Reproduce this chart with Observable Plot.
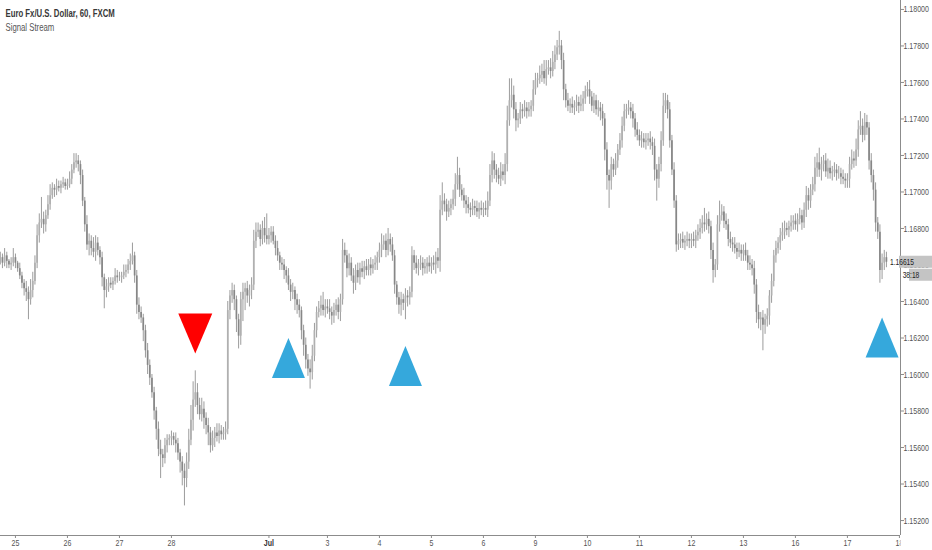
<!DOCTYPE html>
<html>
<head>
<meta charset="utf-8">
<script src="https://cdn.jsdelivr.net/npm/d3@7"></script>
<script src="https://cdn.jsdelivr.net/npm/@observablehq/plot@0.6"></script>
<style>
  html, body { margin: 0; padding: 0; background: #fff; }
  #chart svg { display: block; }
</style>
</head>
<body>
<div id="chart"></div>
<script>
// ---------- DATA (EUR/USD, 60-minute bars, FXCM) ----------
// Bar position is counted in trading hours from Jun 25 00:00 (weekends skipped).
const firstHour = -7;          // first bar: Fri Jun 22 17:00
const firstOpen = 1.1662;

// closes, week of Jun 25 (incl. Jun 22 tail)
const week0Close = [1.1664,1.1661,1.1665,1.1662,1.1660,1.1661,1.1664,
 1.1661,1.1658,1.1654,1.1650,1.1647,1.1645,1.1641,1.1646,1.1651,1.1661,1.1676,1.1683,1.1685,1.1682,1.1687,1.1693,1.1698,1.1702,1.1701,1.1703,1.1702,1.1704,1.1705,1.1703,
 1.1704,1.1707,1.1712,1.1716,1.1717,1.1715,1.1709,1.1695,1.1682,1.1671,1.1673,1.1669,1.1667,1.1672,1.1668,1.1664,1.1653,1.1646,1.1648,1.1650,1.1649,1.1651,1.1654,1.1653,
 1.1653,1.1654,1.1656,1.1657,1.1660,1.1662,1.1665,1.1654,1.1638,1.1634,1.1631,1.1624,1.1613,1.1605,1.1598,1.1590,1.1580,1.1570,1.1559,1.1556,1.1554,1.1561,1.1564,1.1565,
 1.1566,1.1564,1.1562,1.1557,1.1552,1.1547,1.1543,1.1552,1.1564,1.1575,1.1586,1.1590,1.1583,1.1578,1.1581,1.1576,1.1572,1.1568,1.1561,1.1565,1.1568,1.1566,1.1569,1.1567,
 1.1568,1.1570,1.1635,1.1643,1.1646,1.1641,1.1630,1.1621,1.1641,1.1645,1.1647,1.1643,1.1646,1.1649,1.1673,1.1678,1.1679,1.1674,1.1680,1.1676,1.1674];
// closes, week of Jul 2
const week1Close = [1.1676,1.1678,1.1673,
 1.1669,1.1665,1.1661,1.1660,1.1657,1.1654,1.1649,1.1645,1.1646,1.1641,1.1638,1.1635,1.1624,1.1616,1.1608,1.1603,1.1601,1.1610,1.1624,1.1634,1.1636,1.1638,1.1635,1.1637,
 1.1636,1.1634,1.1632,1.1635,1.1638,1.1634,1.1641,1.1668,1.1665,1.1658,1.1661,1.1654,1.1650,1.1657,1.1653,1.1658,1.1656,1.1659,1.1657,1.1660,1.1658,1.1660,1.1661,1.1664,
 1.1668,1.1671,1.1673,1.1668,1.1674,1.1671,1.1665,1.1649,1.1642,1.1638,1.1641,1.1639,1.1643,1.1642,1.1645,1.1665,1.1661,1.1658,1.1660,1.1661,1.1658,1.1659,1.1661,1.1659,
 1.1661,1.1660,1.1664,1.1662,1.1690,1.1695,1.1693,1.1689,1.1691,1.1693,1.1696,1.1704,1.1709,1.1701,1.1698,1.1695,1.1693,1.1691,1.1690,1.1692,1.1691,1.1689,1.1691,1.1690,
 1.1691,1.1690,1.1695,1.1709,1.1717,1.1712,1.1709,1.1707,1.1711,1.1709,1.1715,1.1739,1.1750,1.1753,1.1745,1.1739,1.1740,1.1745,1.1744,1.1746,1.1744];
// closes, week of Jul 9
const week2Close = [1.1745,1.1747,1.1756,
 1.1761,1.1762,1.1764,1.1766,1.1762,1.1767,1.1768,1.1766,1.1771,1.1775,1.1779,1.1780,1.1772,1.1756,1.1750,1.1747,1.1748,1.1746,1.1747,1.1749,1.1747,1.1748,1.1751,1.1755,
 1.1756,1.1752,1.1747,1.1750,1.1745,1.1746,1.1744,1.1740,1.1723,1.1709,1.1706,1.1715,1.1712,1.1717,1.1723,1.1728,1.1736,1.1744,1.1745,1.1746,1.1744,1.1740,1.1734,1.1731,
 1.1728,1.1729,1.1727,1.1728,1.1729,1.1727,1.1725,1.1712,1.1707,1.1715,1.1728,1.1747,1.1750,1.1745,1.1728,1.1712,1.1695,1.1671,1.1673,1.1674,1.1672,1.1673,1.1674,1.1673,
 1.1674,1.1673,1.1676,1.1678,1.1680,1.1683,1.1682,1.1685,1.1681,1.1668,1.1657,1.1660,1.1682,1.1687,1.1689,1.1684,1.1682,1.1674,1.1672,1.1671,1.1669,1.1667,1.1668,1.1666,
 1.1668,1.1665,1.1661,1.1660,1.1658,1.1649,1.1634,1.1630,1.1631,1.1627,1.1630,1.1632,1.1643,1.1651,1.1665,1.1669,1.1672,1.1676,1.1678,1.1680,1.1679];
// closes, week of Jul 16 (to the last bar)
const week3Close = [1.1681,1.1683,1.1684,1.1682,1.1685,1.1687,1.1683,1.1690,1.1698,1.1695,1.1701,1.1704,1.1713,1.1716,1.1712,1.1715,1.1717,1.1711,1.1713,1.1710,1.1711,1.1712,1.1710,1.1710,1.1708,1.1707,1.1706,
 1.1707,1.1715,1.1718,1.1717,1.1723,1.1734,1.1736,1.1731,1.1738,1.1735,1.1717,1.1709,1.1701,1.1683,1.1678,1.1657,1.1661,1.1664,1.16615];

// upper / lower wicks in pips beyond the body
const week0Up = [3,2,4,2,1,3,5,
 2,1,3,2,2,4,3,6,5,4,6,5,12,4,3,5,6,3,2,4,3,2,3,2,
 3,4,3,5,4,3,2,3,2,5,4,3,6,4,3,2,3,2,4,3,3,2,4,3,
 3,2,4,3,3,4,7,2,3,4,3,2,3,4,3,2,3,2,4,5,3,4,3,2,
 3,2,4,3,2,3,4,5,6,8,10,12,5,4,6,4,3,4,3,4,3,5,4,3,
 3,4,5,3,4,3,2,3,4,5,3,4,3,4,6,5,4,3,4,6,12];
const week0Down = [2,3,2,4,2,3,2,
 3,2,2,3,4,5,11,3,4,2,3,4,3,5,4,2,3,2,4,3,2,3,2,2,
 2,2,3,2,3,4,5,3,4,3,6,4,3,5,3,4,5,10,4,3,2,3,2,3,
 2,3,2,3,2,3,2,4,5,4,3,6,4,5,4,3,5,6,4,13,5,3,4,3,
 4,3,5,4,6,8,15,5,4,3,6,4,5,3,4,6,5,7,4,3,5,3,4,3,
 3,4,3,5,4,6,7,7,5,12,10,4,6,5,3,4,3,4,3,4,3];
const week1Up = [4,3,3,
 3,4,2,3,3,2,4,3,4,2,3,3,2,3,4,3,5,6,4,3,4,5,7,4,
 4,5,3,4,3,4,3,6,4,3,5,3,4,3,4,3,4,3,4,3,4,3,4,3,
 4,6,3,4,6,3,4,3,2,3,4,3,4,3,3,5,3,4,3,4,3,4,3,4,
 3,4,3,5,8,10,4,3,4,3,5,6,10,4,3,4,3,4,3,4,3,4,3,4,
 3,4,5,6,5,4,3,4,5,4,6,8,12,9,5,4,3,4,3,4,3];
const week1Down = [3,4,2,
 4,3,4,3,5,4,3,5,4,6,5,4,5,6,5,4,9,4,3,4,3,4,3,4,
 3,4,5,4,3,4,5,3,4,5,4,3,6,4,3,4,3,4,3,3,4,3,3,4,
 3,4,3,4,3,4,3,5,4,5,6,4,9,5,4,3,4,3,4,3,4,3,4,3,
 4,3,5,4,6,3,4,5,3,4,3,4,3,4,3,4,5,3,4,3,4,3,4,3,
 4,3,4,3,4,5,4,3,4,3,5,4,3,4,5,6,4,3,4,3,4];
const week2Up = [4,3,5,
 4,3,5,4,6,5,4,5,6,5,4,8,3,4,3,4,3,4,3,4,3,5,4,3,
 4,5,3,4,3,4,3,4,3,4,3,4,3,4,3,4,5,4,3,4,3,4,3,4,
 3,4,3,4,3,4,3,4,3,4,5,7,4,3,4,3,4,3,4,3,4,3,4,3,
 3,4,3,4,5,4,8,3,4,3,4,3,5,8,4,3,4,3,4,3,4,3,4,3,
 3,4,3,4,3,4,3,4,3,4,3,4,3,4,3,4,3,4,5,4,3];
const week2Down = [3,4,3,
 3,4,3,4,3,4,3,4,3,4,3,4,5,6,4,3,4,3,4,3,4,3,4,3,
 3,4,3,4,3,4,5,4,6,8,15,5,4,3,4,3,4,3,4,3,4,5,4,3,
 3,4,3,4,3,4,5,6,12,5,4,3,4,5,4,3,4,4,3,4,3,4,3,4,
 4,3,4,3,4,3,4,3,4,5,7,4,3,4,3,4,3,4,3,4,3,4,3,4,
 4,3,4,3,4,5,6,5,6,14,5,4,5,4,3,4,3,4,3,4,3];
const week3Up = [3,4,3,4,3,4,3,4,5,4,3,4,6,5,8,4,3,4,5,4,3,4,3,4,3,4,3,
 3,4,5,4,6,5,8,4,5,4,3,4,3,4,3,4,5,4,3];
const week3Down = [4,3,4,3,4,3,4,3,4,5,4,3,4,5,4,6,4,3,4,3,4,3,4,3,4,3,4,
 4,5,3,4,3,4,3,4,3,4,5,4,6,5,4,7,5,4,3];

// signal markers
const signalHour  = [83, 126, 180, 400];
const signalSide  = ["sell", "buy", "buy", "buy"];
const signalPrice = [1.16224, 1.16090, 1.16046, 1.16203];

// axis ticks
const tickLabels = ["25","26","27","28","Jul","3","4","5","6","9","10","11","12","13","16","17","18"];
const tickHours  = [0, 24, 48, 72, 117, 144, 168, 192, 216, 240, 264, 288, 312, 336, 360, 384, 408];
const priceTicks = [1.152,1.154,1.156,1.158,1.160,1.162,1.164,1.166,1.168,1.170,1.172,1.174,1.176,1.178,1.180];

const titleText = "Euro Fx/U.S. Dollar, 60, FXCM";
const subtitleText = "Signal Stream";
const countdown = "38:18";

// ---------- BUILD ----------
const pip = 0.0001;
const closes = [...week0Close, ...week1Close, ...week2Close, ...week3Close];
const ups = [...week0Up, ...week1Up, ...week2Up, ...week3Up];
const downs = [...week0Down, ...week1Down, ...week2Down, ...week3Down];
const bars = closes.map((close, i) => {
  const open = i === 0 ? firstOpen : closes[i - 1];
  return {
    hour: firstHour + i, open, close,
    high: Math.max(open, close) + ups[i] * pip,
    low: Math.min(open, close) - downs[i] * pip
  };
});
const signals = signalHour.map((h, i) => ({hour: h, price: signalPrice[i], side: signalSide[i]}));

const triUp = {draw(ctx) { ctx.moveTo(0, -20); ctx.lineTo(16.5, 20); ctx.lineTo(-16.5, 20); ctx.closePath(); }};
const triDown = {draw(ctx) { ctx.moveTo(-17, -20); ctx.lineTo(17, -20); ctx.lineTo(0, 20); ctx.closePath(); }};

const xDomain = [-6.9, 408.5];
const yDomain = [1.15118, 1.18049];
const font = "'Liberation Sans', Arial, sans-serif";
const axisColor = "#8c8c8c";
const labelColor = "#555";

const chart = Plot.plot({
  width: 932,
  height: 550,
  marginLeft: 0,
  marginRight: 32,
  marginTop: 0,
  marginBottom: 15,
  style: {fontFamily: font, fontSize: "9.5px", background: "#fff", color: labelColor},
  x: {domain: xDomain, axis: null},
  y: {domain: yDomain, axis: null},
  marks: [
    Plot.ruleX(bars, {x: "hour", y1: "low", y2: "high", stroke: "#9c9c9c", strokeWidth: 1}),
    Plot.ruleX(bars.filter(d => d.close >= d.open), {x: "hour", y1: "open", y2: "close", stroke: "#b0b0b0", strokeWidth: 1.7}),
    Plot.ruleX(bars.filter(d => d.close < d.open), {x: "hour", y1: "open", y2: "close", stroke: "#878787", strokeWidth: 1.7}),
    Plot.dot(signals.filter(d => d.side === "buy"), {x: "hour", y: "price", symbol: triUp, fill: "#35a8dc", stroke: "none"}),
    Plot.dot(signals.filter(d => d.side === "sell"), {x: "hour", y: "price", symbol: triDown, fill: "#ff0000", stroke: "none"}),
    Plot.ruleX([xDomain[1]], {stroke: axisColor, strokeWidth: 1}),
    Plot.ruleY([yDomain[0]], {stroke: axisColor, strokeWidth: 1}),
    Plot.axisX({ticks: tickHours, tickFormat: d => tickLabels[tickHours.indexOf(d)], tickSize: 3, tickPadding: 1, stroke: axisColor, fill: labelColor, fontSize: 9.5}),
    Plot.axisY({anchor: "right", ticks: priceTicks, tickFormat: d3.format(".5f"), tickSize: 3, tickPadding: 0, stroke: axisColor, fill: labelColor, fontSize: 9.5}),
    Plot.text([titleText], {frameAnchor: "top-left", dx: 5, dy: 9, textAnchor: "start", lineAnchor: "top", fontSize: 10.5, fontWeight: "bold", fill: "#383838"}),
    Plot.text([subtitleText], {frameAnchor: "top-left", dx: 5, dy: 23, textAnchor: "start", lineAnchor: "top", fontSize: 10.5, fill: "#555"})
  ]
});

document.getElementById("chart").appendChild(chart);

// post-styling: bold month label, last-price tag, condensed text like the source
const svg = d3.select(chart);
svg.selectAll("text").filter(function() { return this.textContent === "Jul"; })
  .attr("font-weight", "bold").attr("fill", "#333");

const lastClose = closes[closes.length - 1];
const yy = chart.scale("y").apply(lastClose);
const tag = svg.append("g").attr("font-family", font).attr("font-size", 9);
tag.append("rect").attr("x", 899).attr("y", yy - 6).attr("width", 33).attr("height", 12).attr("fill", "#c4c4c4");
tag.append("text").attr("x", 902).attr("y", yy + 3.2).attr("fill", "#222").text(d3.format(".5f")(lastClose));
tag.append("rect").attr("x", 909).attr("y", yy + 7).attr("width", 23).attr("height", 12).attr("fill", "#c4c4c4");
tag.append("text").attr("x", 911).attr("y", yy + 16.2).attr("fill", "#222").text(countdown);

svg.selectAll("text").each(function() {
  const w = this.getComputedTextLength();
  if (w > 0) {
    this.setAttribute("textLength", (w * 0.74).toFixed(2));
    this.setAttribute("lengthAdjust", "spacingAndGlyphs");
  }
});

// the price panel hides the part of the last date label that runs past the axis
svg.append("rect").attr("x", 900.5).attr("y", 536).attr("width", 32).attr("height", 14).attr("fill", "#fff");
</script>
</body>
</html>
